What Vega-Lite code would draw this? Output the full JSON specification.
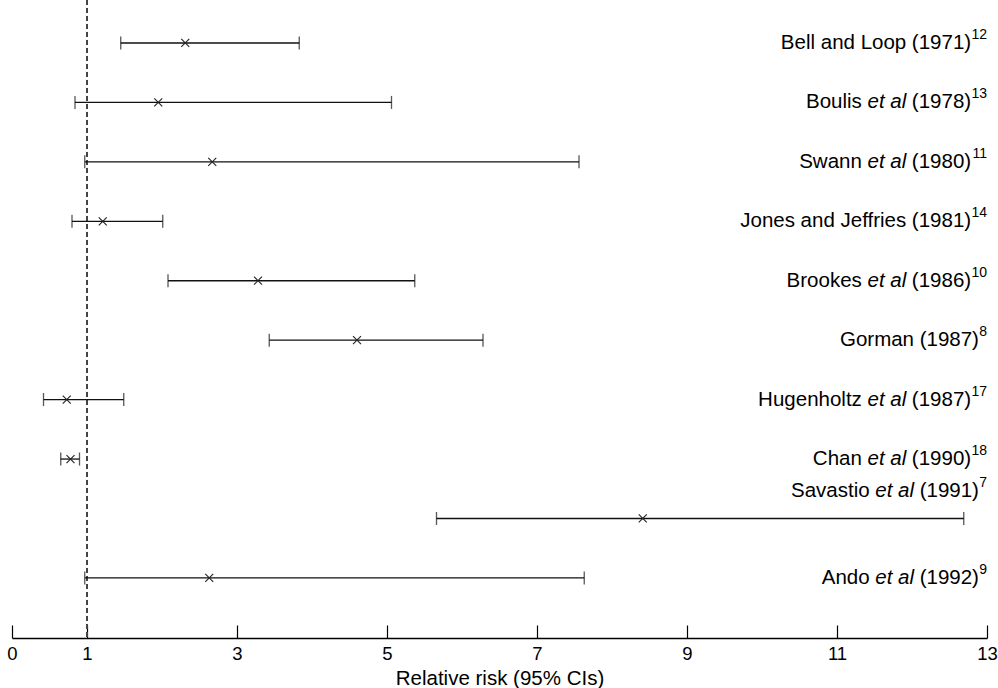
{
  "$schema": "https://vega.github.io/schema/vega-lite/v6.json",
  "width": 975,
  "height": 638,
  "autosize": {"type": "none"},
  "padding": {"left": 12, "top": 0, "right": 11, "bottom": 50},
  "background": "white",
  "config": {"view": {"stroke": null}, "font": "Liberation Sans"},
  "data": {
    "values": [
      {"study": "Bell and Loop", "etal": false, "year": "(1971)", "ref": "12", "rr": 2.31, "lo": 1.45, "hi": 3.83},
      {"study": "Boulis", "etal": true, "year": "(1978)", "ref": "13", "rr": 1.95, "lo": 0.84, "hi": 5.06},
      {"study": "Swann", "etal": true, "year": "(1980)", "ref": "11", "rr": 2.67, "lo": 0.97, "hi": 7.56},
      {"study": "Jones and Jeffries", "etal": false, "year": "(1981)", "ref": "14", "rr": 1.21, "lo": 0.80, "hi": 2.01},
      {"study": "Brookes", "etal": true, "year": "(1986)", "ref": "10", "rr": 3.28, "lo": 2.08, "hi": 5.37},
      {"study": "Gorman", "etal": false, "year": "(1987)", "ref": "8", "rr": 4.60, "lo": 3.43, "hi": 6.28},
      {"study": "Hugenholtz", "etal": true, "year": "(1987)", "ref": "17", "rr": 0.73, "lo": 0.42, "hi": 1.49},
      {"study": "Chan", "etal": true, "year": "(1990)", "ref": "18", "rr": 0.78, "lo": 0.65, "hi": 0.90},
      {"study": "Savastio", "etal": true, "year": "(1991)", "ref": "7", "rr": 8.41, "lo": 5.66, "hi": 12.69},
      {"study": "Ando", "etal": true, "year": "(1992)", "ref": "9", "rr": 2.63, "lo": 0.97, "hi": 7.63}
    ]
  },
  "layer": [
    {
      "mark": {"type": "rule", "strokeDash": [5, 3], "color": "#444", "strokeWidth": 1},
      "encoding": {"x": {"datum": 1, "type": "quantitative"}}
    },
    {
      "mark": {"type": "rule", "color": "#111", "strokeWidth": 1.3},
      "encoding": {
        "x": {
          "field": "lo",
          "type": "quantitative",
          "scale": {"domain": [0, 13], "nice": false, "zero": false},
          "axis": {
            "values": [0, 1, 3, 5, 7, 9, 11, 13],
            "format": "d",
            "title": "Relative risk (95% CIs)",
            "grid": false,
            "tickSize": -13,
            "tickColor": "black",
            "tickWidth": 1.2,
            "domainColor": "black",
            "domainWidth": 1.3,
            "labelFontSize": 18.5,
            "labelColor": "black",
            "labelFlush": false,
            "labelPadding": 19,
            "titleFontSize": 20.5,
            "titleFontWeight": "normal",
            "titleColor": "black",
            "titlePadding": 6
          }
        },
        "x2": {"field": "hi"},
        "y": {"field": "study", "type": "ordinal", "sort": null, "axis": null, "scale": {"type": "point", "padding": 0.867, "align": 0.417}}
      }
    },
    {
      "mark": {"type": "tick", "orient": "vertical", "size": 13, "thickness": 1.3, "color": "#111"},
      "encoding": {
        "x": {"field": "lo", "type": "quantitative"},
        "y": {"field": "study", "type": "ordinal", "sort": null}
      }
    },
    {
      "mark": {"type": "tick", "orient": "vertical", "size": 13, "thickness": 1.3, "color": "#111"},
      "encoding": {
        "x": {"field": "hi", "type": "quantitative"},
        "y": {"field": "study", "type": "ordinal", "sort": null}
      }
    },
    {
      "mark": {"type": "point", "shape": "M-1,-1L1,1M-1,1L1,-1", "size": 64, "filled": false, "color": "#222", "strokeWidth": 1.1, "opacity": 1},
      "encoding": {
        "x": {"field": "rr", "type": "quantitative"},
        "y": {"field": "study", "type": "ordinal", "sort": null}
      }
    },
    {
      "mark": {"type": "text", "align": "right", "baseline": "middle", "fontSize": 14, "color": "black",
               "dy": {"expr": "datum.study === 'Savastio' ? -35 : -8"}},
      "encoding": {
        "x": {"datum": 13, "type": "quantitative"},
        "y": {"field": "study", "type": "ordinal", "sort": null},
        "text": {"field": "ref"}
      }
    },
    {
      "mark": {"type": "text", "align": "right", "baseline": "middle", "fontSize": 20.5, "color": "black",
               "dx": {"expr": "-(length(datum.ref) * 7.78 + 0.3)"},
               "dy": {"expr": "datum.study === 'Savastio' ? -27 : 0"}},
      "encoding": {
        "x": {"datum": 13, "type": "quantitative"},
        "y": {"field": "study", "type": "ordinal", "sort": null},
        "text": {"field": "year"}
      }
    },
    {
      "transform": [{"filter": "datum.etal"}],
      "mark": {"type": "text", "align": "right", "baseline": "middle", "fontSize": 20.5, "fontStyle": "italic", "color": "black",
               "dx": {"expr": "-(length(datum.ref) * 7.78 + 65.2)"},
               "dy": {"expr": "datum.study === 'Savastio' ? -27 : 0"}},
      "encoding": {
        "x": {"datum": 13, "type": "quantitative"},
        "y": {"field": "study", "type": "ordinal", "sort": null},
        "text": {"value": "et al"}
      }
    },
    {
      "mark": {"type": "text", "align": "right", "baseline": "middle", "fontSize": 20.5, "color": "black",
               "dx": {"expr": "-(length(datum.ref) * 7.78 + (datum.etal ? 109.6 : 65.2))"},
               "dy": {"expr": "datum.study === 'Savastio' ? -27 : 0"}},
      "encoding": {
        "x": {"datum": 13, "type": "quantitative"},
        "y": {"field": "study", "type": "ordinal", "sort": null},
        "text": {"field": "study"}
      }
    }
  ]
}
